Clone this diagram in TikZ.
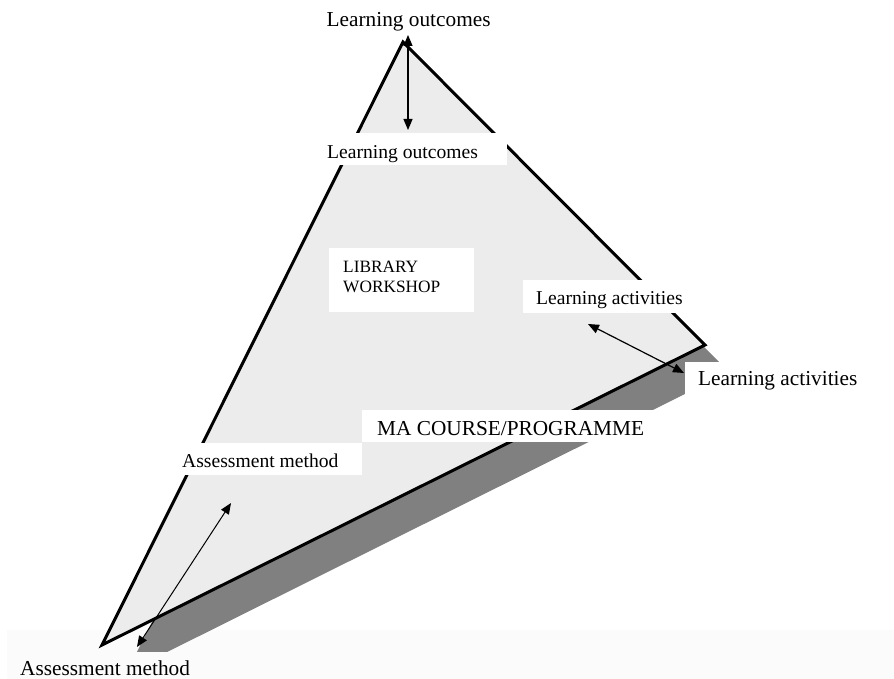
\documentclass[tikz,border=0pt]{standalone}
\usepackage{fontspec}
\setmainfont{Liberation Serif}
\usetikzlibrary{arrows.meta}
\definecolor{trifill}{RGB}{236,236,236}
\definecolor{shadowgray}{RGB}{128,128,128}
\definecolor{bandgray}{RGB}{251,251,251}
\begin{document}
\begin{tikzpicture}[x=1pt,y=-1pt,
  outerlbl/.style={font=\fontsize{21.3}{24}\selectfont, inner sep=0pt, anchor=base west},
  innerlbl/.style={font=\fontsize{19.6}{22}\selectfont, inner sep=0pt, anchor=base west},
  smalllbl/.style={font=\fontsize{17.3}{20}\selectfont, inner sep=0pt, anchor=base west},
  whitebox/.style={fill=white},
  dblarrow/.style={{Triangle[length=11pt,width=9pt]}-{Triangle[length=11pt,width=9pt]}, line width=1.2pt}]
\useasboundingbox (0,0) rectangle (894,679);
\fill[white] (0,0) rectangle (894,679);
\fill[bandgray] (7,630) rectangle (894,679);
% shadow
\begin{scope}
  \clip (0,0) rectangle (894,651);
  \fill[shadowgray] (428,69) -- (729,372) -- (127,672) -- cycle;
\end{scope}
% triangle
\filldraw[fill=trifill, line width=3pt, line join=miter, miter limit=20]
  (403,42) -- (705,345) -- (102,645) -- cycle;
% white label boxes
\fill[whitebox] (320,133) rectangle (507,165);
\fill[whitebox] (329,248) rectangle (474,312);
\fill[whitebox] (523,280) rectangle (690,313);
\fill[whitebox] (685,362) rectangle (870,400);
\fill[whitebox] (362,410) rectangle (690,442);
\fill[whitebox] (177,443) rectangle (362,475);
% labels
\node[outerlbl] (lo1) at (326.5,27) {Learning outcomes};
\node[innerlbl] (lo2) at (327,159) {Learning outcomes};
\node[smalllbl] (lib1) at (343,272) {LIBRARY};
\node[smalllbl] (lib2) at (343,292) {WORKSHOP};
\node[innerlbl] (la2) at (536,304) {Learning activities};
\node[outerlbl] (la1) at (698,385) {Learning activities};
\node[outerlbl] (ma) at (377,435) {MA COURSE/PROGRAMME};
\node[innerlbl] (am2) at (182,467) {Assessment method};
\node[outerlbl] (am1) at (20,675) {Assessment method};
% arrow end points
\coordinate (loTop) at (408,35);
\coordinate (loBot) at (408,130);
\coordinate (laIn) at (588,324);
\coordinate (laOut) at (684,373);
\coordinate (amIn) at (231,503);
\coordinate (amOut) at (137,647);
\draw[dblarrow] (loTop) -- (loBot);
\draw[dblarrow] (laIn) -- (laOut);
\draw[dblarrow, line width=1pt] (amIn) -- (amOut);
\end{tikzpicture}
\end{document}
